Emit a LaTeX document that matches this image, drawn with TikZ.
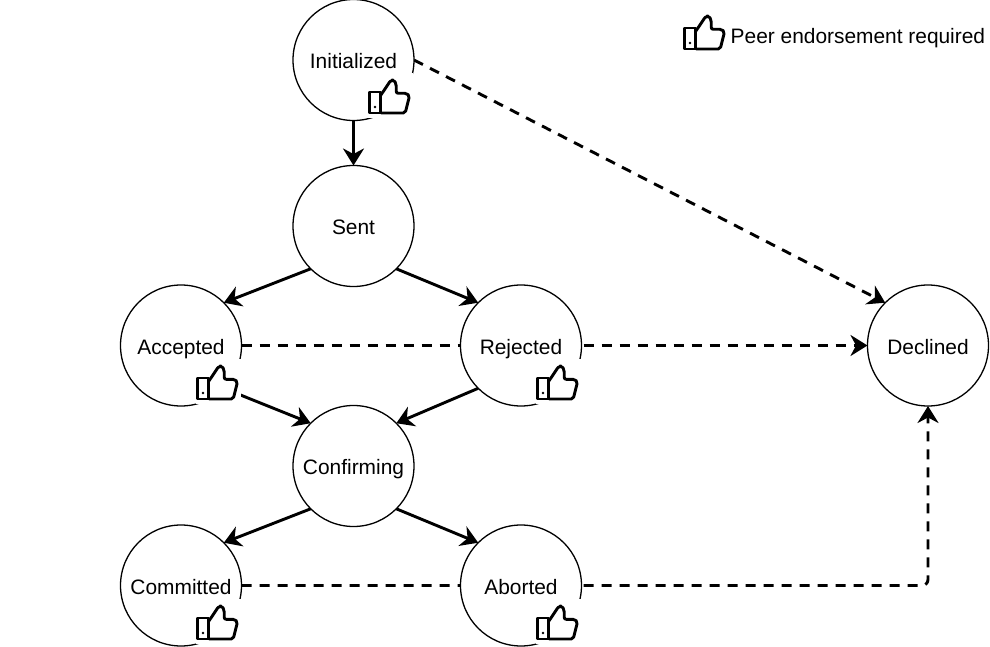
\documentclass[tikz,border=0pt]{standalone}
\usepackage{fontspec}
\setmainfont{Liberation Sans}
\usetikzlibrary{arrows.meta,backgrounds}
\tikzset{
  x=1pt,y=-1pt,
  state/.style={draw=black,fill=white,circle,minimum size=121pt,inner sep=0pt,outer sep=0pt,line width=1.3pt,font=\fontsize{20.9pt}{24pt}\selectfont,text=black,text height=17.5pt,text depth=0pt},
  flow/.style={draw=black,line width=2.9pt,-{Stealth[length=17pt,width=21pt,inset=5.5pt]}},
  flowdash/.style={flow,dash pattern=on 10pt off 8pt},
  legendtext/.style={font=\fontsize{20.9pt}{24pt}\selectfont,inner sep=0pt,anchor=base west,text=black},
  pics/thumb/.style={code={
    \draw[line width=2.9pt,line join=round,fill=white] (0,12) rectangle (11.4,33);
    \fill (5.5,27) circle (1.4pt);
    \draw[line width=2.9pt,line join=round,rounded corners=2pt]
      (11.4,33) -- (35.7,33) -- (40,16) -- (37.4,13.3) -- (26.7,13.3) -- (26.7,4) -- (24.5,0) -- (21.5,0) -- (11.4,15);
  }},
  pics/thumbbox/.style={code={
    \fill[white] (-2,-7) rectangle (43.5,38);
    \pic at (0,0) {thumb};
  }}
}
\begin{document}
\begin{tikzpicture}
\useasboundingbox (0,0) rectangle (990,647);
\node[state] (i) at (353.5,60) {Initialized};
\node[state] (s) at (353.5,226) {Sent};
\node[state] (a) at (181,345.5) {Accepted};
\node[state] (r) at (521,345.5) {Rejected};
\node[state] (c) at (353.5,466) {Confirming};
\node[state] (m) at (181,585.5) {Committed};
\node[state] (b) at (521,585.5) {Aborted};
\node[state] (d) at (928,345.5) {Declined};
\begin{scope}[on background layer]
\fill[white] (0,0) rectangle (990,647);
\draw[flow] (i.south) -- (s.north);
\draw[flow] (s.south west) -- (a.north east);
\draw[flow] (s.south east) -- (r.north west);
\draw[flow] (a.south east) -- (c.north west);
\draw[flow] (r.south west) -- (c.north east);
\draw[flow] (c.south west) -- (m.north east);
\draw[flow] (c.south east) -- (b.north west);
\draw[flowdash] (i.east) -- (d.north west);
\draw[flowdash] (a.east) -- (d.west);
\draw[flowdash,rounded corners=6pt] (m.east) -| (d.south);
\end{scope}
\pic at (369.5,80) {thumbbox};
\pic at (197.5,366) {thumbbox};
\pic at (537.5,366) {thumbbox};
\pic at (197.5,606) {thumbbox};
\pic at (537.5,606) {thumbbox};
\pic at (684.5,16) {thumb};
\node[legendtext] (lg) at (730.5,44) {Peer endorsement required};
\end{tikzpicture}
\end{document}
